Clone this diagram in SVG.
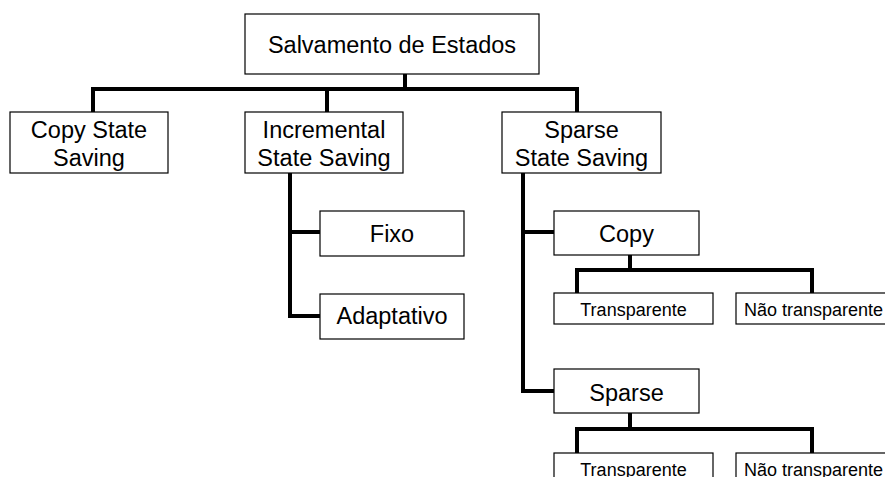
<svg xmlns="http://www.w3.org/2000/svg" width="885" height="477" viewBox="0 0 885 477">
<style>
.box{fill:#fff;stroke:#000;stroke-width:1.2}
.t{font-family:"Liberation Sans",Arial,sans-serif;font-size:23.5px;fill:#000;text-anchor:middle}
.s{font-family:"Liberation Sans",Arial,sans-serif;font-size:18px;fill:#000;text-anchor:middle}
.c{fill:none;stroke:#000;stroke-width:4;stroke-linejoin:miter;stroke-linecap:butt}
</style>
<rect width="885" height="477" fill="#fff"/>
<g id="connectors">
<path class="c" d="M405,74 V89"/>
<path class="c" d="M93,112 V89 H577 V112"/>
<path class="c" d="M327,89 V112"/>
<path class="c" d="M290,173 V316 H320"/>
<path class="c" d="M290,232 H320"/>
<path class="c" d="M523,173 V391 H554"/>
<path class="c" d="M523,232 H554"/>
<path class="c" d="M630,255 V270"/>
<path class="c" d="M577,293 V270 H812 V293"/>
<path class="c" d="M630,413 V429"/>
<path class="c" d="M577,453 V429 H812 V453"/>
</g>
<g id="root">
<rect class="box" x="245" y="14" width="294" height="60"/>
<text class="t" x="392" y="53">Salvamento de Estados</text>
</g>
<g id="copy-state-saving">
<rect class="box" x="10" y="112" width="158" height="61"/>
<text class="t" x="89" y="137.5">Copy State</text>
<text class="t" x="89" y="166">Saving</text>
</g>
<g id="incremental">
<rect class="box" x="245" y="112" width="158" height="61"/>
<text class="t" x="324" y="137.5">Incremental</text>
<text class="t" x="324" y="166">State Saving</text>
</g>
<g id="sparse-state-saving">
<rect class="box" x="502" y="112" width="159" height="61"/>
<text class="t" x="581.5" y="137.5">Sparse</text>
<text class="t" x="581.5" y="166">State Saving</text>
</g>
<g id="fixo">
<rect class="box" x="320" y="211" width="144" height="45"/>
<text class="t" x="392" y="242">Fixo</text>
</g>
<g id="adaptativo">
<rect class="box" x="320" y="294" width="144" height="45"/>
<text class="t" x="392" y="324">Adaptativo</text>
</g>
<g id="copy">
<rect class="box" x="554" y="211" width="145" height="44"/>
<text class="t" x="626.5" y="242">Copy</text>
</g>
<g id="copy-transparente">
<rect class="box" x="554" y="293" width="159" height="31"/>
<text class="s" x="633.5" y="316">Transparente</text>
</g>
<g id="copy-nao-transparente">
<rect class="box" x="736" y="293" width="160" height="31"/>
<text class="s" x="744" y="316" style="text-anchor:start">Não transparente</text>
</g>
<g id="sparse">
<rect class="box" x="554" y="369" width="145" height="44"/>
<text class="t" x="626.5" y="401">Sparse</text>
</g>
<g id="sparse-transparente">
<rect class="box" x="554" y="453" width="159" height="31"/>
<text class="s" x="633.5" y="476">Transparente</text>
</g>
<g id="sparse-nao-transparente">
<rect class="box" x="736" y="453" width="160" height="31"/>
<text class="s" x="744" y="476" style="text-anchor:start">Não transparente</text>
</g>
</svg>
